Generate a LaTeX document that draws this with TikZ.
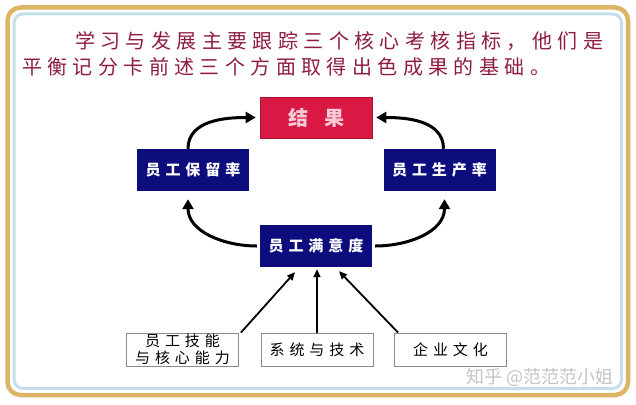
\documentclass[tikz,border=0pt]{standalone}
\usepackage{fontspec}
\usepackage{xcolor}
\usetikzlibrary{arrows.meta}
\newfontfamily\titlefont[LetterSpace=27]{Noto Sans CJK SC}
\newfontfamily\boxfont[LetterSpace=33]{Noto Sans CJK SC}
\newfontfamily\markfont{Noto Sans CJK SC}
\definecolor{frameouter}{HTML}{DDB566}
\definecolor{frameinner}{HTML}{C4DFEB}
\definecolor{titleink}{HTML}{8F1D40}
\definecolor{resultred}{HTML}{DA1844}
\definecolor{resultink}{HTML}{F7CAD6}
\definecolor{navybox}{HTML}{0C0C7C}
\definecolor{sourcegray}{HTML}{8C8C8C}
\definecolor{markgray}{HTML}{C4C4C4}

\begin{document}
\begin{tikzpicture}[
  x=1pt,
  y=-1pt,
  every node/.style={inner sep=0pt},
  result/.style={fill=resultred, draw=resultred!80!black, line width=0.6pt,
    minimum width=112pt, minimum height=41pt, text=resultink,
    font=\boxfont\bfseries\fontsize{20}{22}\selectfont},
  measure/.style={fill=navybox, minimum width=112pt, minimum height=42pt,
    text=white, font=\boxfont\bfseries\fontsize{15}{17}\selectfont},
  source/.style={fill=white, draw=sourcegray, line width=0.8pt,
    minimum width=112pt, minimum height=33pt, align=center,
    font=\boxfont\fontsize{15}{17.5}\selectfont},
  loop/.style={black, line width=3pt, -{Triangle[length=10pt, width=11pt]}},
  feed/.style={black, line width=1.8pt, -{Triangle[length=8pt, width=7pt]}}
]
  % ================= frame ==============================================
  \useasboundingbox (0,0) rectangle (636,404);
  \fill[white] (0,0) rectangle (636,404);
  \draw[frameouter, line width=4.5pt, rounded corners=13pt]
    (7.5,7.5) rectangle (628,395);
  \draw[frameinner, line width=3pt, rounded corners=9pt]
    (14,14) rectangle (621.5,388.5);

  % ================= title ==============================================
  \node[anchor=west, text=titleink, font=\titlefont\fontsize{20}{22}\selectfont]
    (title1) at (75,41) {学习与发展主要跟踪三个核心考核指标，他们是};
  \node[anchor=west, text=titleink, font=\titlefont\fontsize{20}{22}\selectfont]
    (title2) at (22,67) {平衡记分卡前述三个方面取得出色成果的基础。};

  % ================= the cycle ==========================================
  \node[result]  (res)  at (316,117.5) {结\hspace{16pt}果};
  \node[measure] (keep) at (193,170)   {员工保留率};
  \node[measure] (prod) at (439.5,170) {员工生产率};
  \node[measure] (sat)  at (316,246)   {员工满意度};

  \draw[loop] ([xshift=-5pt]keep.north) to[out=90, in=180]
    ([xshift=-4pt]res.west);
  \draw[loop] ([xshift=4pt]prod.north) to[out=90, in=0]
    ([xshift=4pt]res.east);
  \draw[loop] ([xshift=-3pt]sat.west) to[out=180, in=-90]
    ([xshift=-5pt, yshift=-8pt]keep.south);
  \draw[loop] ([xshift=3pt]sat.east) to[out=0, in=-90]
    ([xshift=5pt, yshift=-8pt]prod.south);

  % ================= the sources ========================================
  \node[source] (skill) at (182.5,349.5) {员工技能\\与核心能力};
  \node[source] (sys)   at (317,349.5)   {系统与技术};
  \node[source] (cult)  at (450.5,349.5) {企业文化};

  \draw[feed] ([xshift=2pt]skill.north east) -- ([xshift=-21pt, yshift=-5pt]sat.south);
  \draw[feed] (sys.north) -- ([xshift=1pt, yshift=-2pt]sat.south);
  \draw[feed] ([xshift=4pt]cult.north west) -- ([xshift=23pt, yshift=-4pt]sat.south);

  % watermark, bottom right
  \node[anchor=west, text=markgray, font=\markfont\fontsize{18}{20}\selectfont]
    (mark) at (466,377) {知乎 @范范范小姐};
\end{tikzpicture}
\end{document}
